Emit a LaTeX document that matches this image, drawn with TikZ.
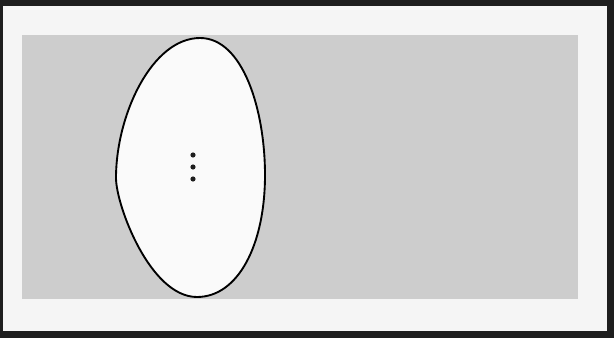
\documentclass[tikz,border=0pt]{standalone}
\usepackage{tikz}
\usetikzlibrary{calc}
\definecolor{Frame}{HTML}{1E1E1E}
\definecolor{Paper}{HTML}{F5F5F5}
\definecolor{Screen}{HTML}{CDCDCD}
\definecolor{Egg}{HTML}{FAFAFA}

\begin{document}
\begin{tikzpicture}[x=0.03cm,y=-0.03cm]
        \fill[Frame] (0,0) rectangle (614,338);
        \fill[Paper] (3,6) rectangle (607,331);
        \fill[Screen] (22,35) rectangle (578,299);
        % egg outline
        \coordinate (top) at (200,38);
        \coordinate (left) at (116,178);
        \coordinate (bottom) at (197,297);
        \coordinate (right) at (265,175);
        \draw[line width=1.6pt,fill=Egg] (top)
          .. controls (152,38) and (116,115) .. (left)
          .. controls (116,205) and (150,297) .. (bottom)
          .. controls (238,297) and (265,245) .. (right)
          .. controls (265,110) and (243,38) .. (top) -- cycle;
        \foreach \y in {155,167,179}
          \fill[Frame] (193,\y) circle (2.6);
      \end{tikzpicture}
\end{document}
